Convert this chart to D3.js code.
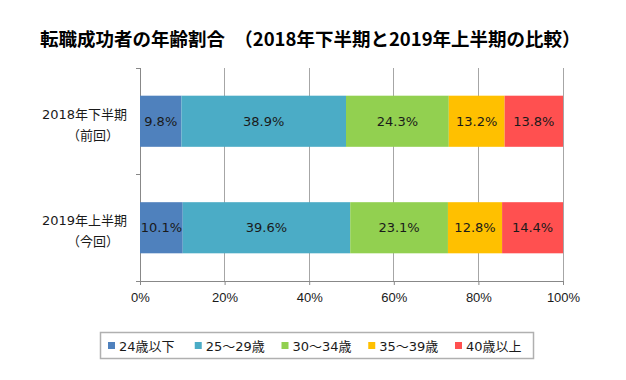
<!DOCTYPE html>
<html><head><meta charset="utf-8">
<script src="https://cdn.jsdelivr.net/npm/d3@7"></script>
<style>
body{margin:0;background:#fff;}
svg{display:block;font-family:"DejaVu Sans","Noto Sans CJK JP",sans-serif;}
</style></head><body>
<svg id="c" width="626" height="380"></svg>
<script>
const title = "転職成功者の年齢割合　（2018年下半期と2019年上半期の比較）";
const categories = ["2018年下半期", "2019年上半期"];
const categorySub = ["（前回）", "（今回）"];
const seriesNames = ["24歳以下", "25～29歳", "30～34歳", "35～39歳", "40歳以上"];
const seriesColors = ["#4F81BD", "#4BACC6", "#92D050", "#FFC000", "#FF5050"];
const values2018H2 = [9.8, 38.9, 24.3, 13.2, 13.8];
const values2019H1 = [10.1, 39.6, 23.1, 12.8, 14.4];
const xTicks = [0, 20, 40, 60, 80, 100];

const rows = [values2018H2, values2019H1];
const svg = d3.select("#c");
const m = {left:140, right:63, top:68, bottom:99};
const W = 626, H = 380;
const x = d3.scaleLinear().domain([0,100]).range([m.left, W-m.right]);
const y = d3.scaleBand().domain(categories).range([m.top, H-m.bottom]).paddingInner(0.52).paddingOuter(0.26);

svg.append("text").attr("x", 40).attr("y", 46)
  .attr("font-family","'Noto Sans CJK JP',sans-serif")
  .attr("font-size", 18.5).attr("font-weight", "bold").attr("fill", "#000")
  .text(title);

// gridlines
svg.append("g").selectAll("line").data(xTicks).join("line")
  .attr("x1", d=>x(d)).attr("x2", d=>x(d))
  .attr("y1", m.top).attr("y2", H-m.bottom)
  .attr("stroke", d=> d===0 ? "#888" : "#a6a6a6").attr("stroke-width", 1)
  .attr("shape-rendering","crispEdges");

// bars
const stacks = rows.map((vals, i) => {
  let acc = 0;
  return vals.map((v, j) => { const s = {cat: categories[i], x0: acc, x1: acc+v, v, j}; acc += v; return s; });
}).flat();

svg.append("g").selectAll("rect").data(stacks).join("rect")
  .attr("x", d=>x(d.x0)).attr("width", d=>x(d.x1)-x(d.x0))
  .attr("y", d=>y(d.cat)).attr("height", y.bandwidth())
  .attr("fill", d=>seriesColors[d.j]);

svg.append("g").selectAll("text").data(stacks).join("text")
  .attr("x", d=>(x(d.x0)+x(d.x1))/2).attr("y", d=>y(d.cat)+y.bandwidth()/2)
  .attr("text-anchor","middle").attr("dominant-baseline","central")
  .attr("font-size", 13).attr("fill","#1a1a1a")
  .text(d=>d.v.toFixed(1)+"%");

// x axis
const xAxis = d3.axisBottom(x).tickValues(xTicks).tickFormat(d=>d+"%").tickSize(4).tickPadding(8);
const gx = svg.append("g").attr("transform", `translate(0,${H-m.bottom})`).call(xAxis);
gx.select(".domain").attr("stroke","#888");
gx.selectAll(".tick line").attr("stroke","#888");
gx.selectAll("text").attr("font-size",13).attr("fill","#1a1a1a").attr("font-family","inherit");

// y axis (category separators)
const sepY = [m.top, (m.top + H - m.bottom)/2, H-m.bottom];
svg.append("g").selectAll("line").data(sepY).join("line")
  .attr("x1", m.left-4).attr("x2", m.left).attr("y1", d=>d).attr("y2", d=>d)
  .attr("stroke","#888").attr("shape-rendering","crispEdges");

// category labels
const yl = svg.append("g");
categories.forEach((c,i)=>{
  const cy = y(c) + y.bandwidth()/2;
  yl.append("text").attr("x", m.left-13).attr("y", cy-7).attr("text-anchor","end")
    .attr("dominant-baseline","central").attr("font-size",13).attr("fill","#1a1a1a").text(c);
  yl.append("text").attr("x", m.left-47).attr("y", cy+14).attr("text-anchor","middle")
    .attr("dominant-baseline","central").attr("font-size",13).attr("fill","#1a1a1a").text(categorySub[i]);
});

// legend
const lg = svg.append("g");
lg.append("rect").attr("x",100.5).attr("y",332.5).attr("width",433).attr("height",26)
  .attr("fill","#fff").attr("stroke","#b0b0b0").attr("stroke-width",1.5);
const lx = d3.scalePoint().domain(seriesNames).range([108, 455]);
seriesNames.forEach((s,j)=>{
  lg.append("rect").attr("x", lx(s)).attr("y", 342).attr("width",7).attr("height",7).attr("fill",seriesColors[j]);
  lg.append("text").attr("x", lx(s)+11).attr("y", 346).attr("dominant-baseline","central")
    .attr("font-size",13).attr("fill","#1a1a1a").text(s);
});
</script>
</body></html>
